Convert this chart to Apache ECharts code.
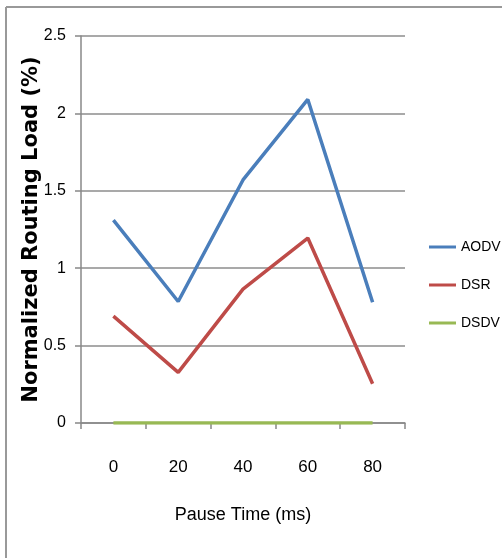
<!DOCTYPE html>
<html>
<head>
<meta charset="utf-8">
<script src="https://cdn.jsdelivr.net/npm/echarts@6/dist/echarts.min.js"></script>
<style>html,body{margin:0;padding:0;background:#fff;}#c{width:502px;height:558px;}</style>
</head>
<body>
<div id="c"></div>
<script>
var categories = ['0', '20', '40', '60', '80'];
var aodv = [1.31, 0.785, 1.57, 2.09, 0.78];
var dsr = [0.69, 0.327, 0.865, 1.195, 0.254];
var dsdv = [0, 0, 0, 0, 0];
var yTicks = [0, 0.5, 1, 1.5, 2, 2.5];

var narrow = "'Liberation Sans Narrow', 'Arial Narrow', 'Liberation Sans', sans-serif";
var chart = echarts.init(document.getElementById('c'));
chart.setOption({
  animation: false,
  backgroundColor: '#fff',
  graphic: [
    { type: 'line', shape: { x1: 6, y1: 7, x2: 502, y2: 7 }, style: { stroke: '#999', lineWidth: 2 } },
    { type: 'line', shape: { x1: 6, y1: 7, x2: 6, y2: 558 }, style: { stroke: '#999', lineWidth: 2 } }
  ],
  grid: { left: 81, top: 36, right: 97, bottom: 135 },
  legend: {
    orient: 'vertical',
    left: 424,
    top: 235,
    itemWidth: 27,
    itemHeight: 3,
    itemGap: 24,
    icon: 'rect',
    textStyle: { fontFamily: narrow, fontSize: 14, color: '#000' },
    data: ['AODV', 'DSR', 'DSDV']
  },
  xAxis: {
    type: 'category',
    data: categories,
    boundaryGap: true,
    name: 'Pause Time (ms)',
    nameLocation: 'middle',
    nameGap: 83,
    nameMoveOverlap: false,
    nameTextStyle: { fontFamily: narrow, fontSize: 18, color: '#000' },
    axisLine: { lineStyle: { color: '#888', width: 1.5 } },
    axisTick: { show: true, length: 6, interval: 0, lineStyle: { color: '#888', width: 1.5 } },
    axisLabel: { fontFamily: narrow, fontSize: 17, color: '#000', margin: 36 },
    splitLine: { show: false }
  },
  yAxis: {
    type: 'value',
    min: yTicks[0],
    max: yTicks[yTicks.length - 1],
    interval: 0.5,
    name: 'Normalized Routing Load (%)',
    nameLocation: 'middle',
    nameGap: 39,
    nameMoveOverlap: false,
    nameRotate: 90,
    nameTextStyle: { fontFamily: "'DejaVu Sans', sans-serif", fontWeight: 'bold', fontSize: 21, color: '#000' },
    axisLine: { show: true, lineStyle: { color: '#888', width: 1.5 } },
    axisTick: { show: true, length: 6, inside: false, lineStyle: { color: '#888', width: 1.5 } },
    axisLabel: { fontFamily: narrow, fontSize: 16, color: '#000', margin: 15 },
    splitLine: { show: true, lineStyle: { color: '#8c8c8c', width: 1.5 } }
  },
  series: [
    { name: 'AODV', type: 'line', data: aodv, symbol: 'none', lineStyle: { color: '#4a7ebb', width: 3.5 }, itemStyle: { color: '#4a7ebb' } },
    { name: 'DSR', type: 'line', data: dsr, symbol: 'none', lineStyle: { color: '#be4b48', width: 3.5 }, itemStyle: { color: '#be4b48' } },
    { name: 'DSDV', type: 'line', data: dsdv, symbol: 'none', lineStyle: { color: '#98b954', width: 3.5 }, itemStyle: { color: '#98b954' } }
  ]
});
</script>
</body>
</html>
